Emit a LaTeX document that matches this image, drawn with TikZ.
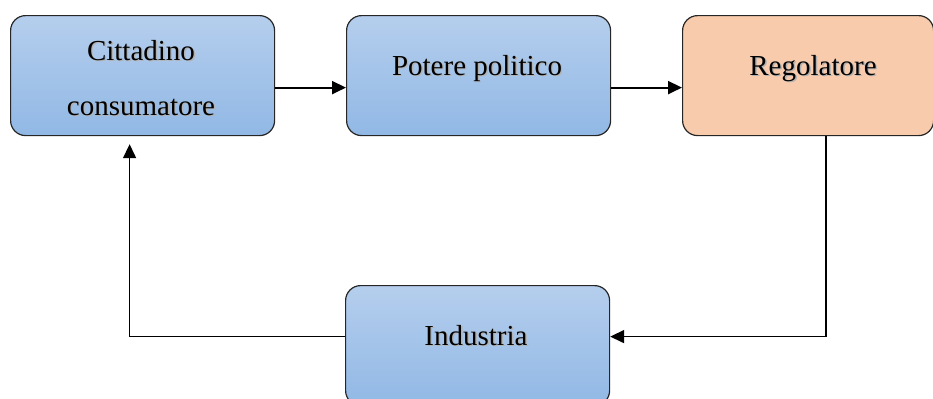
\documentclass[tikz,border=0pt]{standalone}
\usepackage{fontspec}
\setmainfont{Liberation Serif}
\usetikzlibrary{arrows.meta}
\definecolor{blueTop}{RGB}{181,206,237}
\definecolor{blueBot}{RGB}{145,184,229}
\definecolor{peach}{RGB}{248,203,173}
\begin{document}
\begin{tikzpicture}[x=0.5pt,y=-0.5pt,
  box/.style={draw=black!85, line width=0.6pt, rounded corners=7.5pt,
    minimum height=60pt, inner sep=0pt, anchor=north west},
  bluebox/.style={box, top color=blueTop, bottom color=blueBot},
  peachbox/.style={box, fill=peach},
  lbl/.style={font=\fontsize{14.5}{17}\selectfont, text=black, anchor=base, inner sep=0pt},
  lblshadow/.style={lbl, text=black!30},
  conn/.style={line width=1pt, -{Triangle[length=7pt,width=6.5pt]}},
  link/.style={conn, line width=0.8pt},
]
\useasboundingbox (0,0) rectangle (933,398);
\clip (0,0) rectangle (933,398);

% boxes
\node[bluebox, minimum width=132pt] (cit) at (10,15) {};
\node[bluebox, minimum width=132pt] (pot) at (346,15) {};
\node[peachbox, minimum width=125.5pt] (reg) at (682,15) {};
\node[bluebox, minimum width=132pt] (ind) at (345,285) {};

% labels with their soft shadow
\newcommand{\shadowlabel}[3]{%
  \node[lblshadow] at ([xshift=0.7pt,yshift=-0.7pt]#1) {#3};
  \node[lbl] (#2) at (#1) {#3};}
\shadowlabel{141,60}{citA}{Cittadino}
\shadowlabel{141,115}{citB}{consumatore}
\shadowlabel{477,75}{potT}{Potere politico}
\shadowlabel{813,75}{regT}{Regolatore}
\shadowlabel{476,345}{indT}{Industria}

% connectors
\draw[conn] ([yshift=-6pt]cit.east) -- ([yshift=-6pt]pot.west);
\draw[conn] ([yshift=-6pt]pot.east) -- ([yshift=-6pt]reg.west);
\draw[link] ([xshift=9pt]reg.south) |- ([yshift=4.5pt]ind.east);
\draw[link] ([yshift=4.5pt]ind.west) -| ([xshift=-6.5pt,yshift=-4pt]cit.south);
\end{tikzpicture}
\end{document}
